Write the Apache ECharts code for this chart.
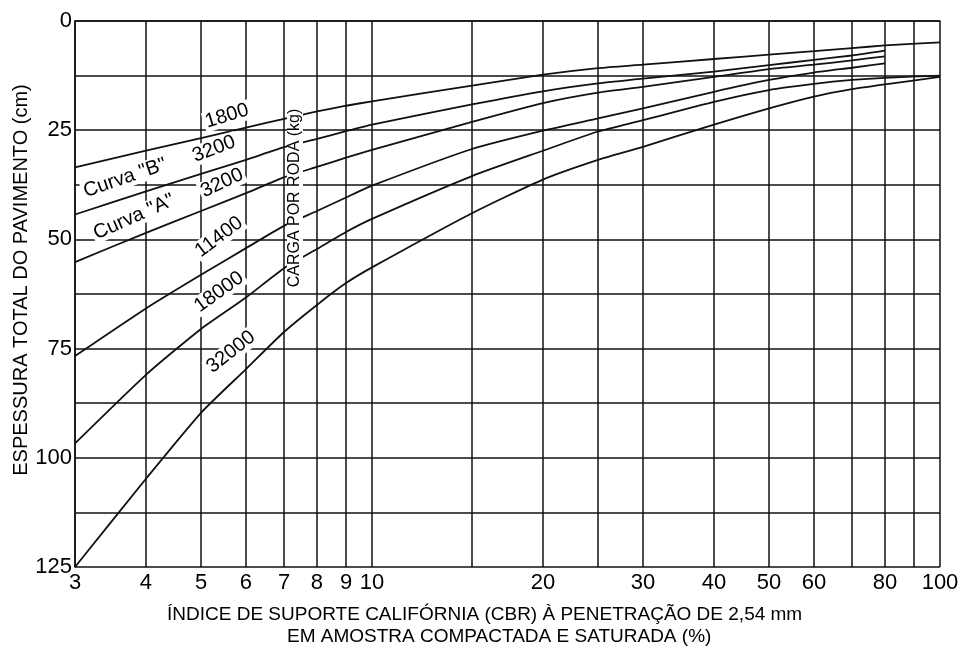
<!DOCTYPE html>
<html>
<head>
<meta charset="utf-8">
<title>Espessura do pavimento x CBR</title>
<script src="https://cdn.jsdelivr.net/npm/echarts@6/dist/echarts.min.js"></script>
<style>
  html, body { margin: 0; padding: 0; background: #fff; }
  #chart { width: 966px; height: 649px; }
</style>
</head>
<body>
<div id="chart"></div>
<script>
// CBR (%) onde as curvas foram lidas
const cbr = [3, 4, 5, 6, 7, 8, 9, 10, 15, 20, 25, 30, 40, 50, 60, 70, 80, 100];

// espessura total (cm) para cada carga por roda
const carga1800 = [33.5, 29.7, 26.8, 24.4, 22.4, 20.7, 19.4, 18.4, 14.8, 12.3, 10.8, 10.0, 8.7, 7.7, 6.9, 6.2, 5.6, 4.9];
const carga3200B = [44.3, 39.0, 35.0, 31.8, 28.9, 27.0, 25.2, 23.7, 19.1, 16.1, 14.3, 13.2, 11.6, 10.1, 8.9, 7.9, 6.8];
const carga3200A = [55.2, 48.5, 43.5, 39.4, 35.8, 33.4, 31.3, 29.5, 23.1, 18.8, 16.4, 15.1, 12.8, 11.0, 10.0, 9.0, 8.1];
const carga11400 = [76.7, 65.8, 58.1, 52.0, 46.9, 43.5, 40.4, 37.7, 29.3, 25.1, 22.3, 20.0, 16.2, 13.5, 11.8, 10.7, 9.7];
const carga18000 = [96.7, 81.0, 70.5, 63.3, 56.6, 52.2, 48.3, 45.3, 35.5, 29.7, 25.3, 22.7, 18.5, 15.8, 14.4, 13.5, 13.0, 12.5];
const carga32000 = [125.0, 104.8, 89.7, 79.7, 71.2, 65.0, 60.0, 56.4, 44.0, 36.3, 31.8, 28.8, 23.7, 20.0, 17.3, 15.6, 14.5, 12.8];

// linhas verticais da malha e rótulos do eixo x
const gradeX = [3, 4, 5, 6, 7, 8, 9, 10, 15, 20, 25, 30, 40, 50, 60, 70, 80, 90, 100];
const rotulosX = [3, 4, 5, 6, 7, 8, 9, 10, 20, 30, 40, 50, 60, 80, 100];

const fonte = '"Liberation Sans", Arial, sans-serif';
const preto = '#111';

function curva(nome, valores) {
  return {
    name: nome,
    type: 'line',
    data: valores.map((v, i) => [cbr[i], v]),
    symbol: 'none',
    smooth: 0.2,
    silent: true,
    z: 3,
    lineStyle: { color: preto, width: 1.8 }
  };
}

// texto sobre a malha (fundo branco interrompe as linhas)
function texto(t, x, y, graus, tam) {
  return {
    type: 'text',
    x: x, y: y,
    rotation: graus * Math.PI / 180,
    z: 100,
    style: {
      text: t,
      fontSize: tam,
      fontFamily: fonte,
      fill: '#000',
      align: 'center',
      verticalAlign: 'middle',
      backgroundColor: '#fff',
      padding: [0, 2]
    }
  };
}

const chart = echarts.init(document.getElementById('chart'));

const grade = {
  name: 'grade',
  type: 'line',
  data: [],
  silent: true,
  markLine: {
    silent: true,
    symbol: ['none', 'none'],
    label: { show: false },
    animation: false,
    lineStyle: { type: 'solid', color: preto, width: 1.5 },
    data: gradeX.map(v => ({ xAxis: v }))
  }
};

chart.setOption({
  animation: false,
  grid: { left: 75, right: 26, top: 21, bottom: 82 },
  xAxis: {
    type: 'log',
    logBase: 10,
    min: 3,
    max: 100,
    axisLine: { show: true, lineStyle: { color: preto, width: 1.5 } },
    axisTick: { show: false },
    splitLine: { show: false },
    axisLabel: {
      customValues: rotulosX,
      margin: 5,
      color: '#000',
      fontSize: 22,
      fontFamily: fonte
    }
  },
  yAxis: {
    type: 'value',
    inverse: true,
    min: 0,
    max: 125,
    interval: 12.5,
    axisLine: { show: true, lineStyle: { color: preto, width: 1.5 } },
    axisTick: { show: false },
    splitLine: { show: true, lineStyle: { color: preto, width: 1.5 } },
    axisLabel: {
      margin: 3,
      color: '#000',
      fontSize: 22,
      fontFamily: fonte,
      formatter: v => (v % 25 === 0 ? String(v) : '')
    }
  },
  series: [
    grade,
    curva('1800', carga1800),
    curva('3200 B', carga3200B),
    curva('3200 A', carga3200A),
    curva('11400', carga11400),
    curva('18000', carga18000),
    curva('32000', carga32000)
  ],
  graphic: [
    texto('1800', 227, 116, 17, 20),
    texto('3200', 214, 149, 21, 20),
    texto('Curva "B"', 125, 178, 19, 20),
    texto('3200', 222, 183, 25, 20),
    texto('Curva "A"', 134, 217, 24, 20),
    texto('11400', 219, 237, 37, 20),
    texto('18000', 219, 292, 36, 20),
    texto('32000', 231, 352, 38, 20),
    texto('CARGA POR RODA (kg)', 295, 198, 90, 16),
    texto('ESPESSURA TOTAL DO PAVIMENTO (cm)', 21, 280, 90, 20),
    {
      type: 'text', x: 167, y: 615, z: 100,
      style: { text: 'ÍNDICE DE SUPORTE CALIFÓRNIA (CBR) À PENETRAÇÃO DE 2,54 mm', fontSize: 19, fontFamily: fonte, fill: '#000', align: 'left', verticalAlign: 'middle' }
    },
    {
      type: 'text', x: 287, y: 637, z: 100,
      style: { text: 'EM AMOSTRA COMPACTADA E SATURADA (%)', fontSize: 19, fontFamily: fonte, fill: '#000', align: 'left', verticalAlign: 'middle' }
    }
  ]
});
</script>
</body>
</html>
